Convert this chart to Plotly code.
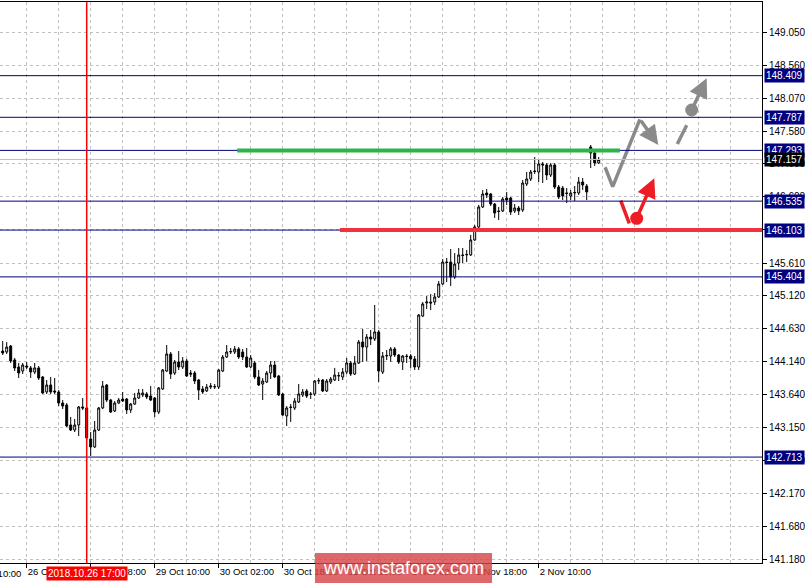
import plotly.graph_objects as go

# ---------------- data (H1 candles, bar index 0 = 26 Oct 02:00) ----------------
bar_index = list(range(-6, 144))

opens = [144.297,144.282,144.371,144.163,144.058,143.998,144.073,144.044,143.983,144.044,
143.909,143.685,143.789,143.700,143.685,143.520,143.490,143.192,143.117,143.192,
143.461,143.446,142.983,142.864,143.117,143.446,143.789,143.565,143.401,143.520,
143.580,143.580,143.416,143.505,143.595,143.640,143.655,143.625,143.595,143.386,
143.730,143.998,144.252,143.968,144.133,144.058,144.148,143.968,143.968,143.864,
143.730,143.700,143.759,143.759,143.759,143.998,144.207,144.282,144.282,144.327,
144.282,144.207,144.058,144.118,143.909,143.804,143.834,143.968,144.088,143.924,
143.655,143.327,143.461,143.446,143.535,143.640,143.700,143.655,143.655,143.849,
143.864,143.700,143.834,143.864,143.924,143.909,143.983,144.118,143.953,144.118,
144.431,144.356,144.506,144.476,144.581,143.983,144.222,144.222,144.327,144.237,
144.133,144.222,144.222,144.178,144.058,144.819,145.014,145.029,145.029,145.104,
145.298,145.626,145.626,145.402,145.611,145.731,145.731,145.731,145.955,146.149,
146.448,146.657,146.642,146.492,146.388,146.388,146.582,146.582,146.388,146.433,
146.403,146.791,146.866,146.985,146.970,147.090,147.075,146.925,147.075,146.746,
146.731,146.657,146.612,146.657,146.657,146.821,146.761,147.344,147.254,147.105]

highs = [144.446,144.431,144.386,144.193,144.118,144.118,144.133,144.073,144.118,144.073,
143.924,143.864,143.909,143.894,143.715,143.565,143.520,143.312,143.282,143.475,
143.595,143.461,143.087,143.252,143.461,143.849,143.804,143.580,143.550,143.595,
143.685,143.595,143.520,143.670,143.730,143.730,143.685,143.774,143.610,143.759,
144.028,144.386,144.282,144.163,144.297,144.207,144.178,144.013,143.998,143.879,
143.774,143.804,143.819,143.804,144.028,144.237,144.386,144.342,144.371,144.356,
144.327,144.342,144.237,144.148,144.013,143.894,143.998,144.148,144.148,143.938,
143.670,143.475,143.505,143.595,143.804,143.730,143.730,143.685,143.864,143.894,
143.879,143.879,143.909,144.044,143.983,144.044,144.193,144.148,144.222,144.461,
144.626,144.551,144.611,144.984,144.611,144.282,144.312,144.356,144.356,144.252,
144.237,144.252,144.252,144.222,144.849,145.029,145.118,145.148,145.163,145.342,
145.671,145.686,145.820,145.760,145.835,145.835,145.806,146.030,146.179,146.478,
146.701,146.716,146.657,146.507,146.448,146.597,146.672,146.597,146.492,146.463,
146.851,146.970,147.000,147.194,147.165,147.120,147.105,147.105,147.105,146.776,
146.761,146.731,146.701,146.761,146.895,146.880,146.791,147.374,147.284,147.194]

lows = [144.237,144.252,144.118,143.998,143.894,143.953,144.028,143.894,143.953,143.864,
143.655,143.655,143.655,143.655,143.475,143.431,143.162,143.102,143.087,143.027,
143.416,142.968,142.729,142.849,143.102,143.431,143.535,143.371,143.386,143.505,
143.535,143.356,143.371,143.490,143.580,143.610,143.580,143.550,143.312,143.356,
143.715,143.983,143.879,143.938,144.013,144.028,143.909,143.909,143.804,143.565,
143.655,143.685,143.730,143.730,143.730,143.983,144.193,144.252,144.252,144.178,
144.163,144.044,144.044,143.879,143.774,143.565,143.819,143.879,143.894,143.625,
143.327,143.177,143.237,143.416,143.520,143.610,143.595,143.580,143.625,143.804,
143.685,143.685,143.804,143.849,143.849,143.864,143.953,143.924,143.938,144.103,
144.133,144.148,144.386,144.446,143.834,143.953,144.163,144.133,144.207,144.103,
144.013,144.118,144.044,144.013,144.013,144.804,144.924,144.909,144.984,145.089,
145.282,145.327,145.267,145.372,145.507,145.611,145.626,145.716,145.940,146.134,
146.433,146.582,146.463,146.284,146.254,146.373,146.478,146.328,146.358,146.328,
146.373,146.761,146.836,146.940,146.821,146.806,146.851,146.895,146.716,146.567,
146.552,146.507,146.552,146.537,146.627,146.701,146.552,147.030,147.060,147.090]

closes = [144.267,144.356,144.148,144.044,143.968,144.088,144.058,143.983,144.044,143.894,
143.670,143.789,143.685,143.685,143.520,143.475,143.177,143.117,143.192,143.461,
143.446,142.998,142.864,143.117,143.446,143.774,143.565,143.386,143.520,143.565,
143.550,143.416,143.505,143.595,143.670,143.670,143.610,143.565,143.386,143.745,
144.013,144.252,143.953,144.133,144.058,144.148,143.924,143.953,143.849,143.715,
143.685,143.759,143.774,143.765,144.013,144.207,144.282,144.290,144.327,144.207,
144.207,144.058,144.193,143.909,143.789,143.849,143.968,144.088,143.909,143.640,
143.341,143.446,143.455,143.550,143.655,143.685,143.625,143.650,143.849,143.855,
143.700,143.849,143.879,143.938,143.930,143.983,144.118,143.953,144.118,144.431,
144.356,144.506,144.476,144.581,143.998,144.222,144.230,144.327,144.237,144.133,
144.222,144.215,144.178,144.058,144.834,144.999,145.029,145.014,145.104,145.298,
145.626,145.620,145.402,145.596,145.731,145.725,145.738,145.955,146.149,146.448,
146.642,146.627,146.492,146.358,146.380,146.567,146.552,146.373,146.433,146.388,
146.806,146.866,146.970,146.978,147.090,147.075,146.925,147.075,146.746,146.597,
146.612,146.650,146.657,146.665,146.821,146.776,146.672,147.254,147.105,147.157]

# horizontal levels
level_prices = [148.409, 147.787, 147.293, 146.535, 146.103, 145.404, 142.713]
current_price = 147.157
resistance_green = 147.293
support_red = 146.103
green_span = [52.6, 148.3]
red_span = [78.3, 183.9]

# axes ticks
y_ticks = [149.050, 148.560, 148.070, 147.580, 147.090, 146.600, 146.110, 145.610, 145.120,
           144.630, 144.140, 143.640, 143.150, 142.660, 142.170, 141.680, 141.180]
x_tick_vals = [-16, 0, 16, 32, 48, 64, 80, 96, 112, 128]
x_tick_text = ["25 Oct 10:00", "26 Oct 02:00", "26 Oct 18:00", "29 Oct 10:00", "30 Oct 02:00",
               "30 Oct 18:00", "31 Oct 10:00", "1 Nov 02:00", "1 Nov 18:00", "2 Nov 10:00"]
marker_bar = 15
marker_text = "2018.10.26 17:00"

# forecast sketch (bar index, price)
grey_path_x = [144.6, 146.5, 153.3]
grey_path_y = [147.041, 146.751, 147.757]
grey_arrow1 = [(153.3, 147.757), (157.9, 147.374)]
grey_dash_x = [162.65, 165.0]
grey_dash_y = [147.389, 147.668]
grey_dot = (166.25, 147.896)
grey_arrow2_end = (170.0, 148.370)
red_path_x = [148.5, 150.65]
red_path_y = [146.542, 146.204]
red_dot = (152.5, 146.279)
red_arrow_end = (156.9, 146.876)

X_RANGE = [-6.675, 183.825]
Y_RANGE = [141.131, 149.509]

FONT = "Liberation Sans"
GREY = "#8a8a8a"
RED = "#ee1c25"
NAVY = "#000080"

fig = go.Figure()
fig.add_trace(go.Candlestick(
    x=bar_index, open=opens, high=highs, low=lows, close=closes,
    increasing=dict(line=dict(color="black", width=1), fillcolor="white"),
    decreasing=dict(line=dict(color="black", width=1), fillcolor="black"),
    whiskerwidth=0, hoverinfo="skip", showlegend=False))

fig.add_trace(go.Scatter(x=grey_path_x, y=grey_path_y, mode="lines",
                         line=dict(color=GREY, width=3.5), showlegend=False, hoverinfo="skip"))
fig.add_trace(go.Scatter(x=grey_dash_x, y=grey_dash_y, mode="lines",
                         line=dict(color=GREY, width=3.5), showlegend=False, hoverinfo="skip"))
fig.add_trace(go.Scatter(x=[grey_dot[0]], y=[grey_dot[1]], mode="markers",
                         marker=dict(color=GREY, size=13), showlegend=False, hoverinfo="skip"))
fig.add_trace(go.Scatter(x=red_path_x, y=red_path_y, mode="lines",
                         line=dict(color=RED, width=3.5), showlegend=False, hoverinfo="skip"))
fig.add_trace(go.Scatter(x=[red_dot[0]], y=[red_dot[1]], mode="markers",
                         marker=dict(color=RED, size=13), showlegend=False, hoverinfo="skip"))

shapes = []
for p in level_prices:
    shapes.append(dict(type="line", xref="paper", x0=0, x1=1, yref="y", y0=p, y1=p,
                       line=dict(color=NAVY, width=1), layer="above"))
shapes.append(dict(type="line", xref="paper", x0=0, x1=1, yref="y", y0=current_price, y1=current_price,
                   line=dict(color="#c0c0c0", width=1), layer="above"))
shapes.append(dict(type="line", xref="x", x0=green_span[0], x1=green_span[1], yref="y",
                   y0=resistance_green, y1=resistance_green,
                   line=dict(color="#2db34a", width=4), layer="above"))
shapes.append(dict(type="line", xref="x", x0=red_span[0], x1=red_span[1], yref="y",
                   y0=support_red, y1=support_red,
                   line=dict(color="#f0323c", width=4), layer="above"))
shapes.append(dict(type="line", xref="x", x0=marker_bar, x1=marker_bar, yref="paper", y0=0, y1=1,
                   line=dict(color="#ff0000", width=1.5), layer="above"))
# watermark box
shapes.append(dict(type="rect", xref="paper", yref="paper",
                   x0=315/762, x1=492/762, y0=(563-583)/561, y1=(563-553)/561,
                   fillcolor="rgba(215,70,72,0.82)", line=dict(width=0), layer="above"))

annotations = []
def level_box(price, bg):
    return dict(xref="paper", x=1, xanchor="left", xshift=2, yref="y", y=price, yanchor="middle",
                text=f"{price:.3f}", showarrow=False, bgcolor=bg, borderpad=1,
                font=dict(family=FONT, size=10, color="white"))
for p in level_prices:
    annotations.append(level_box(p, NAVY))
annotations.append(level_box(current_price, "black"))

# out-of-range first x label
xspan = X_RANGE[1] - X_RANGE[0]
annotations.append(dict(xref="paper", x=(x_tick_vals[0] - X_RANGE[0]) / xspan, xanchor="left", xshift=2,
                        yref="paper", y=0, yanchor="top", yshift=-3,
                        text=x_tick_text[0], showarrow=False,
                        font=dict(family=FONT, size=9.5, color="black")))
# date marker label
annotations.append(dict(xref="x", x=marker_bar, xanchor="center", yref="paper", y=0, yanchor="top", yshift=-3,
                        text=marker_text, showarrow=False, bgcolor="#ff0000", borderpad=1,
                        font=dict(family=FONT, size=10, color="white")))
# watermark text
annotations.append(dict(xref="paper", x=403.5/762, xanchor="center", yref="paper", y=(563-568)/561,
                        yanchor="middle", text="www.instaforex.com", showarrow=False,
                        font=dict(family=FONT, size=18, color="white")))
# arrows
def arrow(tail, head, color):
    return dict(xref="x", yref="y", axref="x", ayref="y", x=head[0], y=head[1], ax=tail[0], ay=tail[1],
                text="", showarrow=True, arrowhead=2, arrowsize=1.1, arrowwidth=3.5, arrowcolor=color,
                standoff=0, startstandoff=0)
annotations.append(arrow(grey_arrow1[0], grey_arrow1[1], GREY))
annotations.append(arrow(grey_dot, grey_arrow2_end, GREY))
annotations.append(arrow(red_dot, red_arrow_end, RED))

fig.update_layout(
    width=805, height=584,
    margin=dict(l=0, r=43, t=2, b=21, autoexpand=False),
    paper_bgcolor="white", plot_bgcolor="white",
    shapes=shapes, annotations=annotations,
    showlegend=False,
    xaxis=dict(range=X_RANGE, rangeslider=dict(visible=False), fixedrange=True, automargin=False,
               tickmode="array", tickvals=x_tick_vals[1:], ticktext=x_tick_text[1:], tickangle=0,
               ticks="outside", ticklen=4, tickcolor="black", ticklabelposition="outside right",
               tickfont=dict(family=FONT, size=9.5, color="black"),
               showgrid=True, gridcolor="#c0c0c0", griddash="3px,3px", gridwidth=1,
               minor=dict(dtick=8, tick0=0, showgrid=True, gridcolor="#c0c0c0", griddash="3px,3px", ticks=""),
               showline=True, linecolor="black", linewidth=1, mirror=True, zeroline=False),
    yaxis=dict(range=Y_RANGE, side="right", fixedrange=True, automargin=False,
               tickmode="array", tickvals=y_ticks, ticktext=[f"{v:.3f}" for v in y_ticks],
               ticks="outside", ticklen=4, tickcolor="black",
               tickfont=dict(family=FONT, size=10, color="black"),
               showgrid=True, gridcolor="#c0c0c0", griddash="3px,3px", gridwidth=1,
               showline=True, linecolor="black", linewidth=1, zeroline=False),
)

fig.write_html("out.html", config={"displayModeBar": False},
               post_script="document.body.style.margin='0';document.body.style.overflow='hidden';")
